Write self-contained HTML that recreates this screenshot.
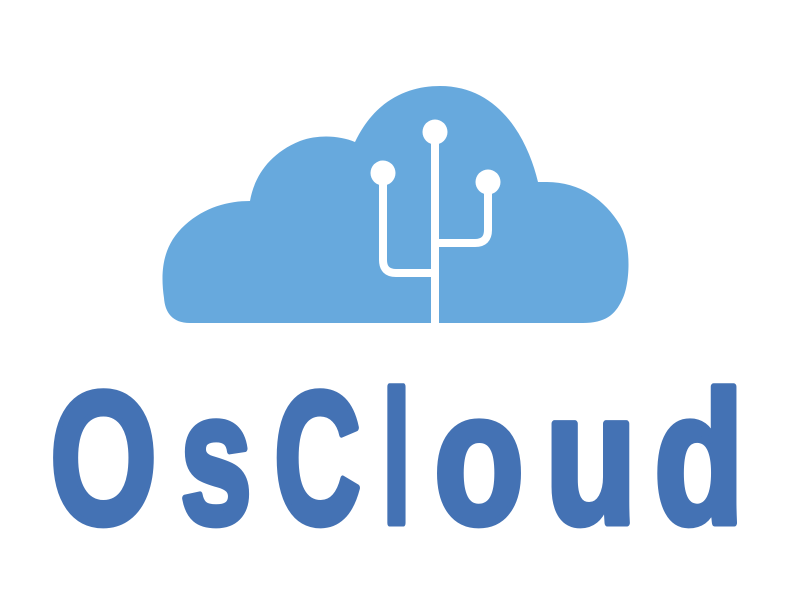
<!DOCTYPE html>
<html><head><style>html,body{margin:0;padding:0;background:#fff;width:792px;height:612px;overflow:hidden}</style></head>
<body>
<svg width="792" height="612" viewBox="0 0 792 612" xmlns="http://www.w3.org/2000/svg">
<path fill="#67a9dd" d="M190 323 C172 323 165 312 164 298 C160 270 163 245 185 225 C205 207 228 201 250 201 C254 178 268 154 300 141 C320 134 340 136 355 142 C375 100 408 86 440 86 C500 86 528 140 538 182 L547 182 C580 182 605 200 620 225 C632 245 630 285 622 300 C615 315 605 323 583 323 Z"/>
<g stroke="#fff" stroke-width="8" fill="none">
<line x1="435" y1="132" x2="435" y2="324"/>
<path d="M383 173 L383 260 Q383 273 396 273 L435 273"/>
<path d="M488 182 L488 230 Q488 243 475 243 L435 243"/>
</g>
<g fill="#fff">
<circle cx="435" cy="132" r="12.5"/>
<circle cx="383" cy="173" r="12.5"/>
<circle cx="488" cy="182" r="12.5"/>
</g>
<g font-family="Liberation Sans, sans-serif" font-weight="bold" font-size="188" fill="#4472b4" stroke="#4472b4" stroke-width="7" stroke-linejoin="round">
<text x="50" y="523" textLength="107" lengthAdjust="spacingAndGlyphs">O</text>
<text x="180" y="523" textLength="72" lengthAdjust="spacingAndGlyphs">s</text>
<text x="274" y="523" textLength="87" lengthAdjust="spacingAndGlyphs">C</text>
<text x="382" y="523" textLength="29" lengthAdjust="spacingAndGlyphs">l</text>
<text x="434" y="523" textLength="90" lengthAdjust="spacingAndGlyphs">o</text>
<text x="545" y="523" textLength="92" lengthAdjust="spacingAndGlyphs">u</text>
<text x="654" y="523" textLength="90" lengthAdjust="spacingAndGlyphs">d</text>
</g>
</svg>
</body></html>
